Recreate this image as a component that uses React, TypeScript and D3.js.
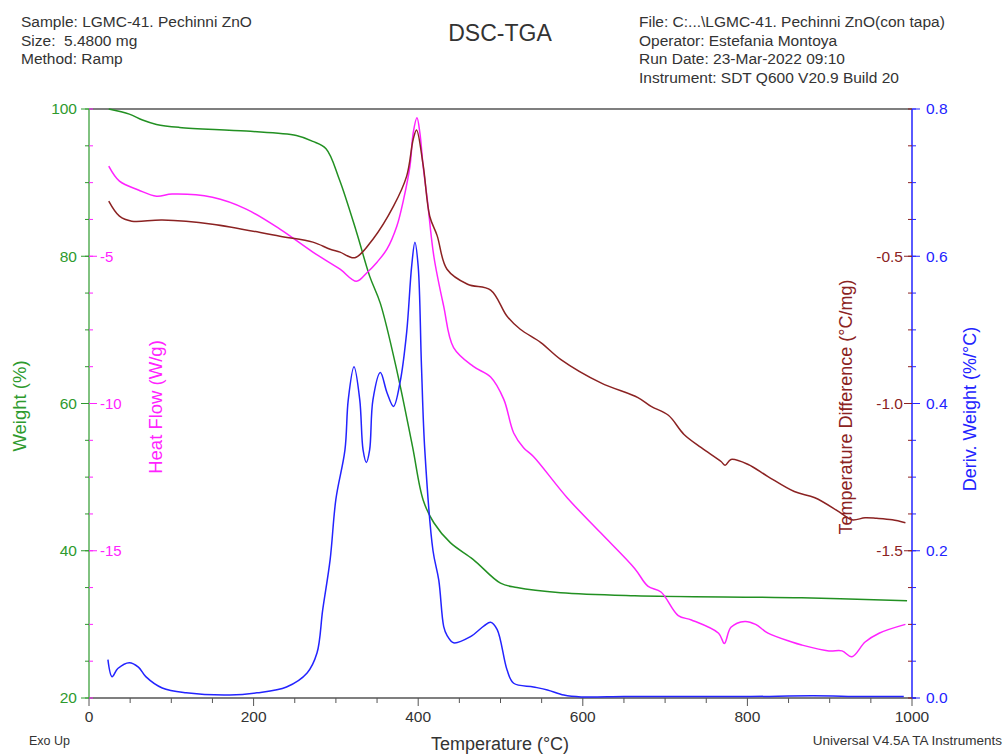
import React from "react";
import * as d3 from "d3";

// temperatures (°C) and readings
const weightT = [24, 49, 65, 82, 110, 191, 252, 272, 288, 304, 325, 341, 354, 375, 393, 406, 419, 439, 467, 500, 520, 573, 663, 866, 994];
const weightPct = [100, 99.3, 98.5, 97.9, 97.5, 97.0, 96.4, 95.6, 94.6, 90.5, 83.3, 77.3, 73.6, 64.0, 54.2, 46.9, 43.8, 41.1, 38.8, 35.6, 35.0, 34.3, 33.9, 33.6, 33.2];

const heatT = [24, 37, 60, 82, 101, 150, 191, 232, 272, 305, 325, 338, 350, 362, 374, 382, 390, 394, 398.5, 402, 406, 411, 419, 431, 443, 467, 488, 504, 516, 528, 540, 581, 622, 663, 679, 695, 716, 732, 765, 772, 780, 797, 810, 825, 854, 866, 899, 915, 927, 943, 960, 992];
const heatFlow = [-1.94, -2.45, -2.75, -2.96, -2.89, -3.0, -3.4, -4.08, -4.86, -5.44, -5.85, -5.55, -5.2, -4.76, -3.98, -3.1, -1.94, -0.8, -0.3, -0.8, -1.94, -3.06, -5.0, -6.7, -8.1, -8.74, -9.1, -9.86, -11.0, -11.5, -11.8, -13.2, -14.4, -15.6, -16.2, -16.4, -17.2, -17.35, -17.8, -18.15, -17.6, -17.4, -17.5, -17.8, -18.1, -18.2, -18.4, -18.4, -18.6, -18.1, -17.8, -17.5];

const diffT = [24, 37, 52, 89, 150, 232, 272, 293, 305, 323, 345, 370, 386, 394, 398, 406, 414, 423, 435, 460, 488, 508, 524, 549, 573, 622, 667, 683, 704, 723, 744, 768, 773, 780, 801, 825, 857, 882, 911, 927, 943, 957, 976, 992];
const tempDiff = [-0.313, -0.364, -0.381, -0.377, -0.391, -0.432, -0.452, -0.476, -0.486, -0.505, -0.442, -0.33, -0.228, -0.102, -0.071, -0.19, -0.364, -0.43, -0.544, -0.595, -0.615, -0.704, -0.748, -0.793, -0.85, -0.93, -0.98, -1.01, -1.04, -1.105, -1.15, -1.197, -1.21, -1.19, -1.207, -1.248, -1.299, -1.32, -1.367, -1.395, -1.388, -1.39, -1.395, -1.405];

const derivT = [23, 28, 35, 49, 60, 69, 89, 118, 171, 204, 240, 265, 277, 284, 293, 300, 311, 315, 322, 329, 333, 337, 341, 345, 354, 362, 370, 378, 386, 392, 396, 400, 404, 408, 418, 425, 431, 435, 443, 463, 480, 488, 496, 508, 516, 540, 557, 577, 598, 650, 700, 800, 880, 940, 990];
const derivW = [0.052, 0.029, 0.04, 0.048, 0.042, 0.029, 0.0136, 0.007, 0.004, 0.007, 0.015, 0.034, 0.061, 0.12, 0.188, 0.27, 0.337, 0.405, 0.45, 0.405, 0.337, 0.32, 0.337, 0.405, 0.442, 0.415, 0.396, 0.429, 0.497, 0.586, 0.619, 0.586, 0.45, 0.337, 0.2, 0.16, 0.097, 0.085, 0.075, 0.083, 0.098, 0.103, 0.093, 0.038, 0.02, 0.015, 0.011, 0.004, 0.0014, 0.002, 0.002, 0.002, 0.003, 0.002, 0.002];

const tempTicks = [0, 200, 400, 600, 800, 1000];
const weightTicks = [20, 40, 60, 80, 100];
const heatTicks = [-5, -10, -15];
const diffTicks = [-0.5, -1.0, -1.5];
const derivTicks = [0, 0.2, 0.4, 0.6, 0.8];

const leftLines = ["Sample: LGMC-41. Pechinni ZnO", "Size:  5.4800 mg", "Method: Ramp"];
const rightLines = ["File: C:...\\LGMC-41. Pechinni ZnO(con tapa)", "Operator: Estefania Montoya", "Run Date: 23-Mar-2022 09:10", "Instrument: SDT Q600 V20.9 Build 20"];

const W = 1005, H = 754;
const x0 = 89, x1 = 912, yTop = 109, yBot = 698;
const font = "'Liberation Sans', Arial, sans-serif";

const GREEN = "#2e9a2e", MAG = "#ff22ff", RED = "#8b2222", BLUE = "#2323ff", GRAY = "#333";

export default function App() {
  const x = d3.scaleLinear().domain([0, 1000]).range([x0, x1]);
  const yW = d3.scaleLinear().domain([20, 100]).range([yBot, yTop]);
  const yH = d3.scaleLinear().domain([-20, 0]).range([yBot, yTop]);
  const yD = d3.scaleLinear().domain([-2, 0]).range([yBot, yTop]);
  const yV = d3.scaleLinear().domain([0, 0.8]).range([yBot, yTop]);

  const mk = (ts: number[], vs: number[], y: d3.ScaleLinear<number, number>) =>
    d3.line<number>().x((_, i) => x(ts[i])).y((v) => y(v)).curve(d3.curveCatmullRom.alpha(0.5))(vs) || "";

  const minorY = d3.range(20, 100.01, 5);
  const minorX = d3.range(0, 1000.01, 50);

  return (
    <svg width={W} height={H} style={{ position: "absolute", left: 0, top: 0, background: "#fff" }} fontFamily={font}>
      {leftLines.map((s, i) => (
        <text key={s} x={21} y={27 + i * 18.5} fontSize={15.5} fill={GRAY} style={{ whiteSpace: "pre" }}>{s}</text>
      ))}
      {rightLines.map((s, i) => (
        <text key={s} x={639} y={27 + i * 18.5} fontSize={15.5} fill={GRAY}>{s}</text>
      ))}
      <text x={500} y={41} fontSize={23} textAnchor="middle" fill={GRAY}>DSC-TGA</text>

      {/* frame */}
      <line x1={x0} x2={x1} y1={yTop} y2={yTop} stroke="#555" strokeWidth={1.5} />
      <line x1={x0} x2={x1 + 4} y1={yBot} y2={yBot} stroke="#555" strokeWidth={1.5} />
      <line x1={x0} x2={x0} y1={yTop} y2={yBot} stroke={GREEN} strokeWidth={1.5} opacity={0.8} />
      <line x1={x1} x2={x1} y1={yTop} y2={yBot} stroke={BLUE} strokeWidth={1.5} />

      {/* x axis */}
      {minorX.map((t) => (
        <line key={t} x1={x(t)} x2={x(t)} y1={yBot} y2={yBot + (t % 200 === 0 ? 8 : 5)} stroke="#555" />
      ))}
      {tempTicks.map((t) => (
        <text key={t} x={x(t)} y={722} fontSize={15.5} textAnchor="middle" fill={GRAY}>{t}</text>
      ))}
      <text x={500} y={750} fontSize={18} textAnchor="middle" fill={GRAY}>Temperature (°C)</text>
      <text x={29} y={745} fontSize={12.5} fill={GRAY}>Exo Up</text>
      <text x={1002} y={745} fontSize={13.5} textAnchor="end" fill={GRAY}>Universal V4.5A TA Instruments</text>

      {/* left axes */}
      {minorY.map((v) => (
        <g key={v}>
          <line x1={x0 - 4} x2={x0} y1={yW(v)} y2={yW(v)} stroke={GREEN} />
          <line x1={x0} x2={x0 + 4} y1={yW(v)} y2={yW(v)} stroke={MAG} />
        </g>
      ))}
      {weightTicks.map((v) => (
        <g key={v}>
          <line x1={x0 - 8} x2={x0} y1={yW(v)} y2={yW(v)} stroke={GREEN} />
          <text x={77} y={yW(v)} dy="0.35em" fontSize={15.5} textAnchor="end" fill={GREEN}>{v}</text>
        </g>
      ))}
      {heatTicks.map((v) => (
        <g key={v}>
          <line x1={x0} x2={x0 + 8} y1={yH(v)} y2={yH(v)} stroke={MAG} />
          <text x={100} y={yH(v)} dy="0.35em" fontSize={15} fill={MAG}>{v}</text>
        </g>
      ))}
      <text transform="translate(26,406) rotate(-90)" fontSize={18.5} textAnchor="middle" fill={GREEN}>Weight (%)</text>
      <text transform="translate(162,407) rotate(-90)" fontSize={18.5} textAnchor="middle" fill={MAG}>Heat Flow (W/g)</text>

      {/* right axes */}
      {d3.range(0, 0.801, 0.05).map((v) => (
        <g key={v}>
          <line x1={x1 - 4} x2={x1} y1={yV(v)} y2={yV(v)} stroke={RED} />
          <line x1={x1} x2={x1 + 4} y1={yV(v)} y2={yV(v)} stroke={BLUE} />
        </g>
      ))}
      {diffTicks.map((v) => (
        <g key={v}>
          <line x1={x1 - 8} x2={x1} y1={yD(v)} y2={yD(v)} stroke={RED} />
          <text x={903} y={yD(v)} dy="0.35em" fontSize={15.5} textAnchor="end" fill={RED}>{v.toFixed(1)}</text>
        </g>
      ))}
      {derivTicks.map((v) => (
        <g key={v}>
          <line x1={x1} x2={x1 + 8} y1={yV(v)} y2={yV(v)} stroke={BLUE} />
          <text x={926} y={yV(v)} dy="0.35em" fontSize={15.5} fill={BLUE}>{v.toFixed(1)}</text>
        </g>
      ))}
      <text transform="translate(852,407) rotate(-90)" fontSize={18} textAnchor="middle" fill={RED}>Temperature Difference (°C/mg)</text>
      <text transform="translate(976,409) rotate(-90)" fontSize={18} textAnchor="middle" fill={BLUE}>Deriv. Weight (%/°C)</text>

      {/* curves */}
      <g fill="none" strokeWidth={1.5}>
        <path d={mk(weightT, weightPct, yW)} stroke="#229022" />
        <path d={mk(heatT, heatFlow, yH)} stroke={MAG} />
        <path d={mk(diffT, tempDiff, yD)} stroke={RED} />
        <path d={mk(derivT, derivW, yV)} stroke={BLUE} />
      </g>
    </svg>
  );
}
